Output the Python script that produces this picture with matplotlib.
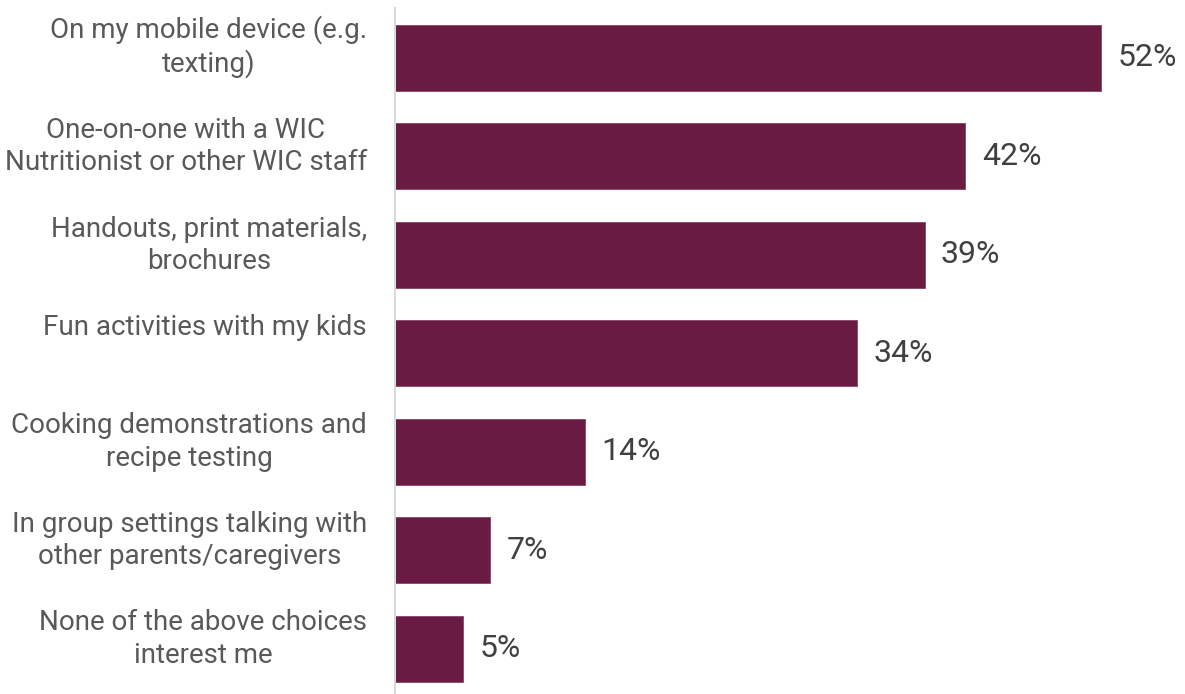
import matplotlib.pyplot as plt
import matplotlib.transforms as mtransforms

categories = [
    "On my mobile device (e.g.\ntexting)",
    "One-on-one with a WIC\nNutritionist or other WIC staff",
    "Handouts, print materials,\nbrochures",
    "Fun activities with my kids",
    "Cooking demonstrations and\nrecipe testing",
    "In group settings talking with\nother parents/caregivers",
    "None of the above choices\ninterest me",
]
values = [52, 42, 39, 34, 14, 7, 5]

plt.rcParams['font.family'] = ['Roboto', 'DejaVu Sans']

fig = plt.figure(figsize=(11.85, 6.94), dpi=100)
ax = fig.add_axes([395 / 1185, 0, 1 - 395 / 1185, 1 - 8 / 694])

n = len(categories)
bar_h = 0.67
ypos = list(range(n - 1, -1, -1))
ax.barh(ypos, values, height=bar_h, color='#6A1B41', edgecolor='#8A4468',
        linewidth=0.6)

for y, v in zip(ypos, values):
    ax.text(v + 1.2, y, f"{v}%", va='center', ha='left', fontsize=23,
            color='#404040')

# category labels: first line starts just above the top of each bar
# (baseline alignment uses the last line, so push down by the extra lines)
trans = mtransforms.blended_transform_factory(ax.transAxes, ax.transData)
for y, lab in zip(ypos, categories):
    extra = lab.count('\n') * 32
    ax.text(-28 / 790, y + bar_h / 2 - (15 + extra) / 98.4, lab,
            transform=trans, ha='right', va='baseline',
            multialignment='center', fontsize=20, color='#595959',
            linespacing=1.25)

ax.set_xlim(0, 790 / 13.58)
ax.set_ylim(-0.462, n - 1 + 0.508)
ax.set_yticks([])
ax.set_xticks([])

for s in ['top', 'right', 'bottom']:
    ax.spines[s].set_visible(False)
ax.spines['left'].set_color('#D9D9D9')
ax.spines['left'].set_linewidth(1.5)

fig.savefig('out.png', dpi=100)
